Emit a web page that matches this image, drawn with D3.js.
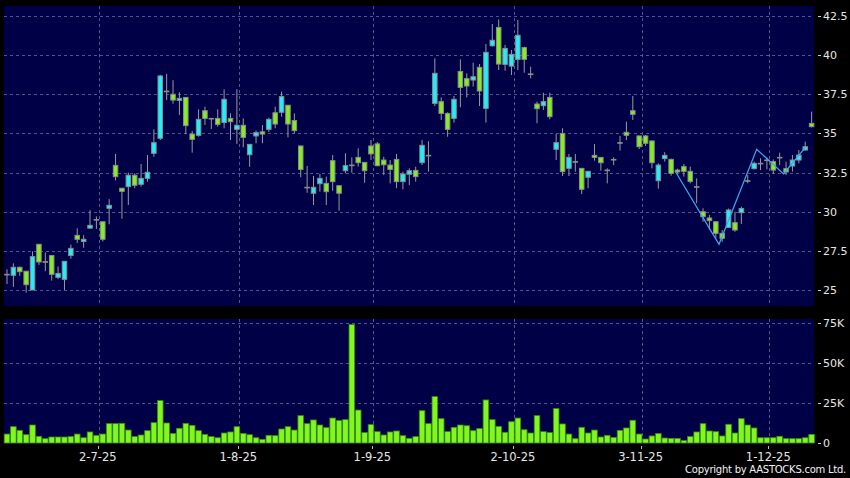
<!doctype html>
<html>
  <head>
    <meta charset="utf-8">
    <title>Candles</title>
    <script src="https://cdn.jsdelivr.net/npm/d3@7/dist/d3.min.js"></script>
    <style>
      body { margin: 0; background: #000; }
      text { font-family: "DejaVu Sans", sans-serif; }
    </style>
  </head>
  <body>
    <script>
      // trading days, Jun 11 - Dec 10 2025 (HK holidays left out)
      const monthDays = [
        [6, [11, 12, 13, 16, 17, 18, 19, 20, 23, 24, 25, 26, 27, 30]],
        [7, [2, 3, 4, 7, 8, 9, 10, 11, 14, 15, 16, 17, 18, 21, 22, 23, 24, 25, 28, 29, 30, 31]],
        [8, [1, 4, 5, 6, 7, 8, 11, 12, 13, 14, 15, 18, 19, 20, 21, 22, 25, 26, 27, 28, 29]],
        [9, [1, 2, 3, 4, 5, 8, 9, 10, 11, 12, 15, 16, 17, 18, 19, 22, 23, 24, 25, 26, 29, 30]],
        [10, [2, 3, 6, 8, 9, 10, 13, 14, 15, 16, 17, 20, 21, 22, 23, 24, 27, 28, 30, 31]],
        [11, [3, 4, 5, 6, 7, 10, 11, 12, 13, 14, 17, 18, 19, 20, 21, 24, 25, 26, 27, 28]],
        [12, [1, 2, 3, 4, 5, 8, 9, 10]]
      ];
      const dates = monthDays.flatMap(([m, ds]) => ds.map(d => `${d}-${m}-25`));

      const open = [
        26.0, 25.94, 26.45, 26.2, 25.0, 27.92, 26.81, 27.2, 25.81, 25.68,
        27.2, 28.49, 28.1, 28.95, 29.5, 29.36, 30.22, 32.96, 31.5, 31.6,
        32.33, 31.75, 32.13, 33.73, 34.69, 37.7, 37.5, 37.11, 37.3, 34.96,
        34.88, 36.45, 35.96, 35.96, 35.7, 35.96, 35.26, 35.52, 33.64, 34.84,
        35.1, 35.26, 36.32, 36.35, 36.8, 35.82, 34.2, 31.56, 31.18, 31.79,
        31.81, 33.26, 31.66, 32.62, 32.98, 33.47, 33.15, 34.2, 34.33, 33.3,
        32.98, 33.34, 31.92, 32.39, 32.64, 33.13, 33.6, 36.92, 37.03, 36.28,
        35.96, 38.96, 38.5, 38.41, 39.22, 36.6, 40.6, 41.77, 39.41, 39.3,
        39.73, 40.48, 38.8, 36.88, 36.77, 37.3, 33.99, 35.0, 32.77, 33.2,
        32.77, 32.2, 33.6, 33.47, 32.66, 33.34, 34.41, 35.07, 36.45, 34.84,
        34.84, 34.52, 31.98, 33.39, 33.34, 32.66, 32.88, 32.58, 31.6, 30.0,
        29.6, 29.36, 28.62, 29.0, 29.3, 29.94, 31.98, 32.75, 33.09, 33.3,
        33.2, 33.47, 32.75, 32.92, 33.3, 33.94, 35.64
      ];
      const high = [
        26.32, 26.7, 26.5, 26.2, 27.47, 27.92, 27.4, 27.2, 26.5, 26.83,
        27.9, 28.94, 28.5, 30.1, 29.7, 29.36, 30.8, 33.69, 31.5, 32.5,
        32.45, 33.05, 33.62, 35.26, 38.75, 38.8, 38.4, 37.63, 37.3, 35.15,
        36.54, 36.71, 35.96, 36.54, 37.82, 36.28, 37.82, 35.96, 34.3, 35.18,
        35.54, 36.0, 36.71, 37.67, 36.8, 36.28, 34.2, 32.92, 32.28, 32.41,
        32.24, 33.62, 31.66, 33.73, 33.47, 34.05, 33.15, 34.58, 34.45, 33.51,
        33.3, 33.69, 32.56, 32.77, 32.87, 34.58, 34.5, 39.8, 37.3, 36.35,
        37.39, 39.73, 38.84, 39.52, 39.43, 40.71, 41.99, 42.28, 40.65, 40.33,
        42.24, 40.54, 39.26, 37.03, 37.6, 37.6, 34.96, 35.33, 33.69, 33.69,
        32.77, 32.6, 34.33, 33.47, 32.77, 33.47, 34.84, 35.75, 37.39, 34.86,
        34.9, 34.55, 33.09, 33.8, 33.4, 32.75, 33.05, 32.88, 32.13, 30.22,
        29.79, 29.4, 28.83, 30.2, 30.0, 30.32, 32.34, 33.2, 33.41, 33.47,
        33.34, 33.77, 33.2, 33.62, 33.94, 34.48, 36.39
      ];
      const low = [
        25.38, 25.2, 25.9, 24.83, 25.0, 26.6, 26.2, 25.6, 25.7, 25.0,
        27.0, 28.0, 27.7, 28.94, 28.9, 28.1, 29.2, 32.0, 29.55, 30.43,
        31.5, 31.6, 31.92, 33.51, 34.58, 37.13, 36.9, 36.18, 34.96, 33.77,
        34.79, 35.54, 35.28, 35.43, 35.33, 34.58, 34.33, 34.11, 32.87, 34.37,
        34.37, 35.1, 35.33, 36.07, 34.75, 35.0, 32.2, 31.21, 30.43, 31.28,
        30.43, 31.34, 30.07, 32.45, 32.49, 32.88, 31.85, 33.3, 32.9, 32.34,
        31.81, 31.5, 31.43, 31.7, 31.92, 32.98, 32.56, 36.75, 35.86, 34.79,
        35.69, 36.67, 37.3, 37.99, 36.75, 35.69, 40.54, 39.05, 39.0, 38.73,
        39.05, 38.88, 38.52, 35.65, 36.5, 35.9, 33.3, 32.28, 32.28, 32.56,
        31.13, 31.5, 33.26, 32.62, 31.81, 32.98, 33.9, 34.58, 35.86, 34.0,
        34.2, 32.77, 31.47, 33.2, 32.3, 32.45, 32.24, 31.81, 30.54, 29.36,
        28.83, 28.3, 28.08, 28.97, 28.72, 29.22, 31.81, 32.7, 32.66, 32.7,
        32.41, 32.98, 32.34, 32.56, 33.09, 33.9, 35.39
      ];
      const close = [
        26.0, 26.45, 26.17, 25.34, 27.13, 26.79, 26.81, 26.0, 26.06, 26.83,
        27.66, 28.24, 28.24, 29.13, 29.5, 28.24, 30.41, 32.24, 31.3, 32.33,
        31.69, 32.13, 32.52, 34.41, 38.67, 37.7, 37.13, 37.24, 35.5, 34.62,
        35.9, 35.96, 35.96, 35.58, 37.18, 35.75, 35.52, 34.75, 34.3, 35.05,
        34.96, 35.9, 35.6, 37.35, 35.6, 35.18, 32.7, 31.56, 31.56, 32.13,
        31.28, 31.92, 31.18, 32.94, 32.98, 33.13, 32.62, 33.69, 32.94, 33.0,
        32.7, 31.92, 32.41, 32.62, 32.24, 34.24, 33.6, 38.84, 36.28, 35.26,
        37.18, 37.94, 38.03, 38.62, 37.71, 40.18, 40.95, 39.43, 40.43, 40.05,
        41.27, 39.73, 38.8, 36.58, 37.03, 36.07, 34.41, 32.56, 33.47, 33.2,
        31.43, 32.58, 33.47, 33.13, 32.66, 33.34, 34.41, 34.88, 36.22, 34.15,
        34.37, 33.13, 32.98, 33.6, 32.45, 32.54, 32.58, 31.94, 31.6, 29.68,
        29.43, 28.62, 28.3, 30.11, 28.83, 30.2, 31.98, 33.09, 33.09, 33.3,
        32.66, 33.47, 32.54, 33.3, 33.62, 34.15, 35.43
      ];
      // volume, thousands of shares
      const volume = [
        5.6, 10.2, 7.9, 5.2, 11.25, 4.2, 2.7, 3.75, 3.75, 3.75,
        4.0, 5.6, 3.3, 6.9, 4.8, 5.6, 12.1, 12.1, 12.3, 8.1,
        4.0, 5.0, 7.7, 12.7, 26.5, 12.5, 6.0, 9.2, 12.3, 11.0,
        7.7, 5.4, 4.0, 3.3, 6.25, 6.9, 10.2, 6.0, 5.2, 3.3,
        2.3, 4.8, 4.6, 8.75, 10.2, 8.1, 17.1, 12.1, 14.4, 11.25,
        9.6, 15.6, 14.0, 14.6, 74.0, 20.6, 6.5, 11.5, 7.1, 5.0,
        6.9, 7.5, 4.6, 2.9, 4.0, 20.2, 12.1, 29.0, 15.2, 7.1,
        9.8, 11.25, 10.8, 7.7, 9.0, 26.9, 14.6, 10.4, 6.7, 13.3,
        15.6, 8.3, 6.25, 17.1, 7.1, 6.5, 21.5, 11.9, 5.6, 2.7,
        9.8, 6.25, 8.1, 3.75, 4.8, 3.5, 7.9, 9.4, 14.2, 5.6,
        2.5, 4.4, 6.0, 3.1, 2.9, 2.9, 1.5, 4.0, 6.9, 12.1,
        7.5, 7.1, 4.4, 11.7, 6.25, 15.2, 11.25, 9.4, 3.3, 3.3,
        3.3, 4.2, 2.7, 2.7, 2.7, 3.3, 5.4
      ];

      // zigzag line near the end (day position, price)
      const zigDay = [104.6, 111.5, 117.4, 121.6, 125];
      const zigPrice = [32.62, 27.92, 33.99, 32.41, 34.09];

      const priceTicks = [25, 27.5, 30, 32.5, 35, 37.5, 40, 42.5];
      const volumeTicks = [0, 25, 50, 75];
      const dateTicks = ['2-7-25', '1-8-25', '1-9-25', '2-10-25', '3-11-25', '1-12-25'];

      const width = 850;
      const height = 478;
      const left = 4;
      const right = 814;
      const priceTop = 6;
      const priceBottom = 306;
      const volTop = 319;
      const volBottom = 444;

      const green = '#84ee22';
      const cyan = '#22eef8';
      const gridColor = '#55558a';

      const svg = d3.select('body').append('svg')
          .attr('width', width)
          .attr('height', height)
          .style('display', 'block')
          .style('background', '#000');

      const x = d3.scaleLinear()
          .domain([0, dates.length - 1])
          .range([7, 811.6]);

      const y = d3.scaleLinear()
          .domain([25, 42.5])
          .range([290, 16]);

      const yv = d3.scaleLinear()
          .domain([0, 75])
          .range([443, 323]);

      // panels
      svg.append('rect')
          .attr('x', left).attr('y', priceTop)
          .attr('width', right - left).attr('height', priceBottom - priceTop)
          .attr('fill', '#000046');
      svg.append('rect')
          .attr('x', left).attr('y', volTop)
          .attr('width', right - left).attr('height', volBottom - volTop)
          .attr('fill', '#000046');

      const tickIdx = dateTicks.map(t => dates.indexOf(t));
      const gridX = i => x(i) + 2.4;

      // grid lines
      const grid = svg.append('g')
          .attr('stroke', gridColor)
          .attr('stroke-dasharray', '3,3')
          .attr('shape-rendering', 'crispEdges');

      grid.selectAll('.hp')
        .data(priceTicks)
        .enter().append('line')
          .attr('x1', left).attr('x2', right)
          .attr('y1', d => Math.round(y(d)) + 0.5)
          .attr('y2', d => Math.round(y(d)) + 0.5);

      grid.selectAll('.hv')
        .data(volumeTicks.slice(1))
        .enter().append('line')
          .attr('x1', left).attr('x2', right)
          .attr('y1', d => Math.round(yv(d)) + 0.5)
          .attr('y2', d => Math.round(yv(d)) + 0.5);

      grid.selectAll('.vp')
        .data(tickIdx)
        .enter().append('line')
          .attr('x1', d => Math.round(gridX(d)) + 0.5)
          .attr('x2', d => Math.round(gridX(d)) + 0.5)
          .attr('y1', priceTop).attr('y2', priceBottom);

      grid.selectAll('.vv')
        .data(tickIdx)
        .enter().append('line')
          .attr('x1', d => Math.round(gridX(d)) + 0.5)
          .attr('x2', d => Math.round(gridX(d)) + 0.5)
          .attr('y1', volTop).attr('y2', volBottom);

      // candles
      const idx = d3.range(dates.length);
      const bodyW = 4.5;
      const candles = svg.append('g');

      candles.selectAll('.wick')
        .data(idx)
        .enter().append('line')
          .attr('x1', i => x(i)).attr('x2', i => x(i))
          .attr('y1', i => y(high[i])).attr('y2', i => y(low[i]))
          .attr('stroke', '#9a9a9a')
          .attr('stroke-width', 1);

      candles.selectAll('.body')
        .data(idx)
        .enter().append('rect')
          .attr('x', i => x(i) - bodyW / 2)
          .attr('y', i => y(Math.max(open[i], close[i])))
          .attr('width', bodyW)
          .attr('height', i => Math.max(0.6, Math.abs(y(open[i]) - y(close[i]))))
          .attr('fill', i => close[i] > open[i] ? cyan : close[i] < open[i] ? green : '#9a9a9a')
          .attr('stroke', '#8c8c8c')
          .attr('stroke-width', 1);

      // zigzag
      svg.append('path')
          .datum(d3.range(zigDay.length))
          .attr('d', d3.line().x(i => x(zigDay[i])).y(i => y(zigPrice[i])))
          .attr('fill', 'none')
          .attr('stroke', '#3fa8f0')
          .attr('stroke-width', 1.2);

      // volume bars
      const barW = 5.6;
      svg.append('g')
        .selectAll('rect')
        .data(idx)
        .enter().append('rect')
          .attr('x', i => x(i) - barW / 2)
          .attr('y', i => yv(volume[i]))
          .attr('width', barW)
          .attr('height', i => yv(0) - yv(volume[i]))
          .attr('fill', '#80f820')
          .attr('stroke', '#3a8a10')
          .attr('stroke-width', 0.8);

      // right axis labels
      const axisG = svg.append('g')
          .attr('fill', '#e6e6e6')
          .attr('font-size', '11px');

      const rightLabels = (ticks, scale, fmt) => {
        ticks.forEach(t => {
          axisG.append('line')
              .attr('x1', 818).attr('x2', 821)
              .attr('y1', Math.round(scale(t)) + 0.5)
              .attr('y2', Math.round(scale(t)) + 0.5)
              .attr('stroke', '#cfcfcf');
          axisG.append('text')
              .attr('x', 823)
              .attr('y', scale(t))
              .attr('dy', '0.36em')
              .text(fmt(t));
        });
      };
      rightLabels(priceTicks, y, d => d);
      rightLabels(volumeTicks, yv, d => d === 0 ? '0' : d + 'K');

      // date labels
      tickIdx.forEach((d, k) => {
        axisG.append('line')
            .attr('x1', Math.round(gridX(d) - 1) + 0.5)
            .attr('x2', Math.round(gridX(d) - 1) + 0.5)
            .attr('y1', 446).attr('y2', 449)
            .attr('stroke', '#bbb');
        axisG.append('text')
            .attr('x', gridX(d) - 1)
            .attr('y', 460.5)
            .attr('text-anchor', 'middle')
            .attr('font-size', '11.5px')
            .text(dateTicks[k]);
      });

      svg.append('text')
          .attr('x', 846)
          .attr('y', 473)
          .attr('text-anchor', 'end')
          .attr('fill', '#f2f2f2')
          .attr('font-size', '10px')
          .attr('letter-spacing', '-0.25px')
          .text('Copyright by AASTOCKS.com Ltd.');
    </script>
  </body>
</html>
